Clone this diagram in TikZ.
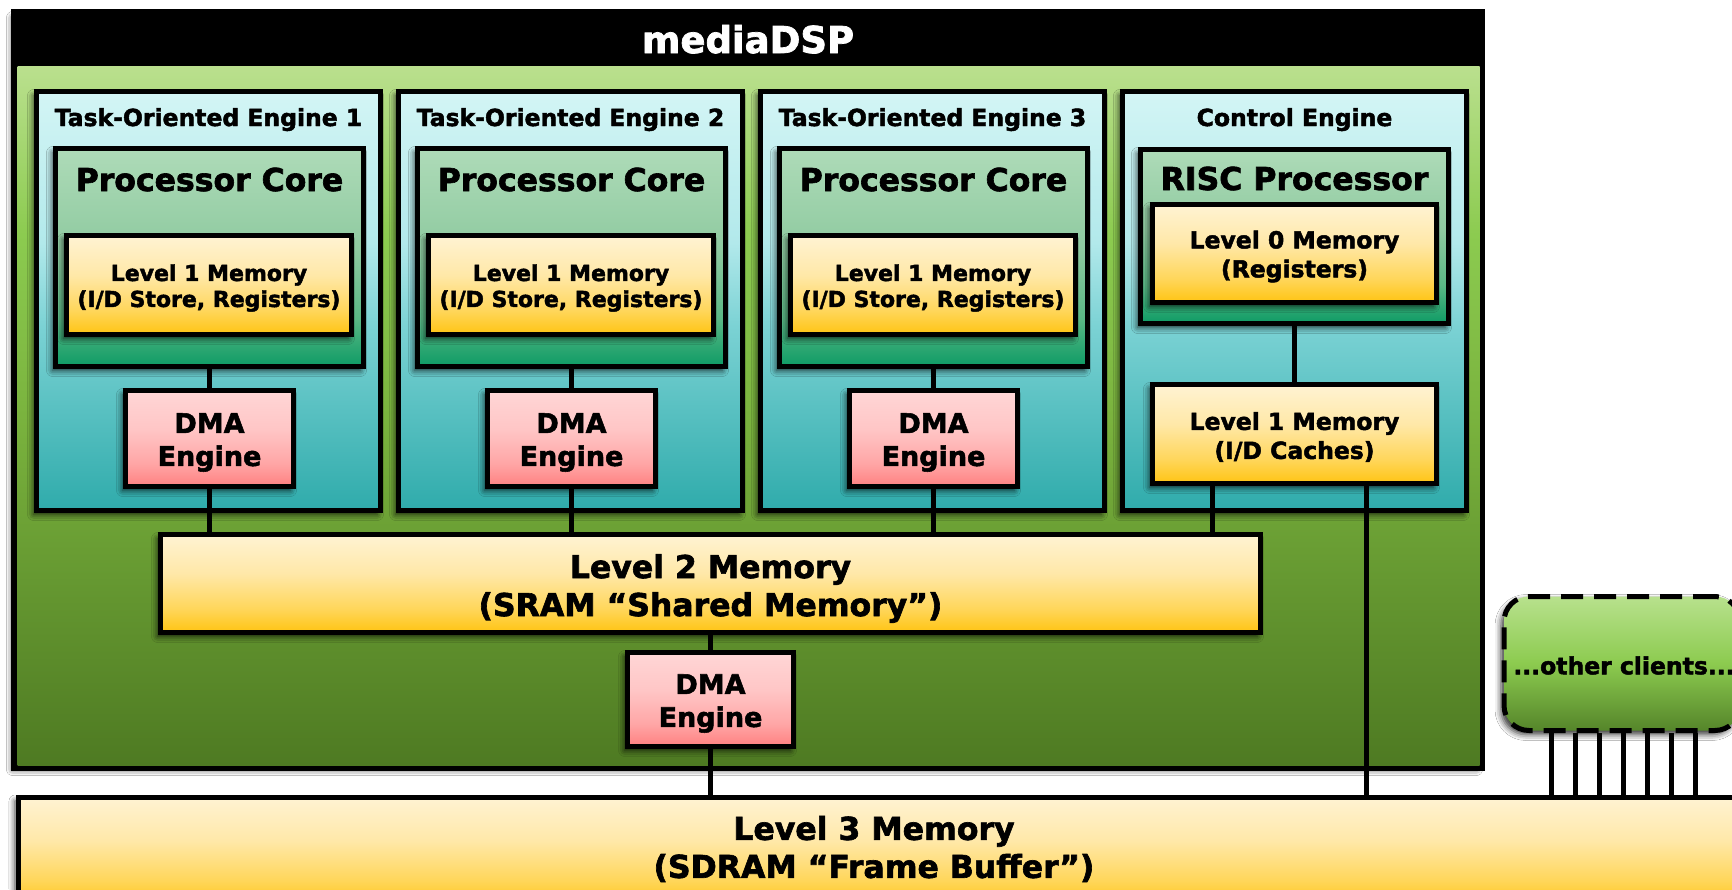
\documentclass[tikz,border=0pt]{standalone}
\usepackage{fontspec}
\setmainfont{DejaVu Sans}[BoldFeatures={FakeBold=2}]
\usetikzlibrary{shadows.blur}

% colour ramps
\definecolor{pgA}{HTML}{4E7A22}
\definecolor{pgB}{HTML}{7AB33E}
\definecolor{pgC}{HTML}{8CCB50}
\definecolor{pgD}{HTML}{BAE08E}
\definecolor{etA}{HTML}{2FABAB}
\definecolor{etB}{HTML}{7BD2D4}
\definecolor{etC}{HTML}{B2E9EB}
\definecolor{etD}{HTML}{D3F5F5}
\definecolor{cgA}{HTML}{0E9B65}
\definecolor{cgB}{HTML}{5BB885}
\definecolor{cgC}{HTML}{8FCAA0}
\definecolor{cgD}{HTML}{AEDBB8}
\definecolor{myA}{HTML}{FFC412}
\definecolor{myB}{HTML}{FFD65A}
\definecolor{myC}{HTML}{FFE8A8}
\definecolor{myD}{HTML}{FFF3D3}
\definecolor{dpA}{HTML}{FF8080}
\definecolor{dpB}{HTML}{FFA6A6}
\definecolor{dpC}{HTML}{FFC6C6}
\definecolor{dpD}{HTML}{FFD6D6}
\definecolor{ocA}{HTML}{55852A}
\definecolor{ocB}{HTML}{8CCB4F}
\definecolor{ocD}{HTML}{B8E18D}

% vertical ramps: 25bp = bottom of the filled shape, 75bp = top
\pgfdeclareverticalshading{panelgreen}{100bp}{color(0bp)=(pgA); color(25bp)=(pgA); color(50bp)=(pgB); color(63bp)=(pgC); color(75bp)=(pgD); color(100bp)=(pgD)}
\pgfdeclareverticalshading{engteal}{100bp}{color(0bp)=(etA); color(25bp)=(etA); color(47bp)=(etB); color(57bp)=(etC); color(75bp)=(etD); color(100bp)=(etD)}
\pgfdeclareverticalshading{coregreen}{100bp}{color(0bp)=(cgA); color(25bp)=(cgA); color(36bp)=(cgB); color(52bp)=(cgC); color(75bp)=(cgD); color(100bp)=(cgD)}
\pgfdeclareverticalshading{memyellow}{100bp}{color(0bp)=(myA); color(25bp)=(myA); color(37bp)=(myB); color(55bp)=(myC); color(75bp)=(myD); color(100bp)=(myD)}
\pgfdeclareverticalshading{dmapink}{100bp}{color(0bp)=(dpA); color(25bp)=(dpA); color(37bp)=(dpB); color(55bp)=(dpC); color(75bp)=(dpD); color(100bp)=(dpD)}
\pgfdeclareverticalshading{clientgreen}{100bp}{color(0bp)=(ocA); color(25bp)=(ocA); color(50bp)=(ocB); color(75bp)=(ocD); color(100bp)=(ocD)}

\newcommand\txtsize[2]{\fontsize{#1}{#2}\selectfont\bfseries}

\begin{document}
\begin{tikzpicture}[x=1pt,y=-1pt,
  shd/.style={blur shadow={shadow xshift=-3pt,shadow yshift=-4pt,shadow blur radius=6pt,shadow opacity=80}},
  box/.style={draw,line width=5pt,inner sep=0pt,shd},
  engine/.style={box,shading=engteal,minimum width=344,minimum height=419},
  core/.style={box,shading=coregreen,minimum width=308,minimum height=218},
  mem/.style={box,shading=memyellow},
  dma/.style={box,shading=dmapink,minimum width=168,minimum height=96},
  txt/.style={inner sep=0pt,align=center},
  dmatxt/.style={txt,font=\txtsize{27}{33}},
  hdr/.style={anchor=base,inner sep=0pt,font=\txtsize{23.5}{28}},
  big/.style={anchor=base,inner sep=0pt,font=\txtsize{31.5}{38}},
  wire/.style={line width=5pt}]

\useasboundingbox (0,0) rectangle (1732,889);
\clip (0,0) rectangle (1732,889);
\fill[white] (0,0) rectangle (1732,889);

% mediaDSP frame with its title bar and green body
\node[box,fill=black,minimum width=1464,minimum height=752] (dsp) at (747.5,389.5) {};
\path[shading=panelgreen] (17.5,66) rectangle (1479.5,765.5);
\draw[line width=5pt] (dsp.north west) rectangle (dsp.south east);
\node[anchor=base,inner sep=0pt,text=white,font=\txtsize{37}{42}] (title) at (748,53) {mediaDSP};

% task-oriented engines
\foreach \i/\cx in {1/208.5,2/570.5,3/932.5}{
  \node[engine] (te\i) at (\cx,301) {};
  \node[hdr] (tt\i) at (\cx,126) {Task-Oriented Engine \i};
  \node[core] (pc\i) at (\cx+1,257.5) {};
  \node[big] (pt\i) at (\cx+1,191) {Processor Core};
  \node[mem,minimum width=285,minimum height=99] (m\i) at (\cx+0.5,285) {};
  \node[txt,font=\txtsize{22}{26}] (m\i t) at ([yshift=-3pt]m\i.center) {Level 1 Memory\\(I/D Store, Registers)};
  \node[dma] (d\i) at (\cx+1,438.5) {};
  \node[dmatxt] (d\i t) at ([yshift=-4pt]d\i.center) {DMA\\Engine};
}

% control engine
\node[engine] (ce) at (1294.5,301) {};
\node[hdr] (ct) at (1294.5,126) {Control Engine};
\node[core,minimum height=174] (risc) at (1294.5,236.5) {};
\node[big] (rt) at (1294.5,190) {RISC Processor};
\node[mem,minimum width=284,minimum height=98] (l0) at (1294.5,253.5) {};
\node[txt,font=\txtsize{23.5}{29}] (l0t) at ([yshift=-3pt]l0.center) {Level 0 Memory\\(Registers)};
\node[mem,minimum width=284,minimum height=99] (cl1) at (1294.5,434) {};
\node[txt,font=\txtsize{23.5}{29}] (cl1t) at ([yshift=-3pt]cl1.center) {Level 1 Memory\\(I/D Caches)};

% shared memory and its DMA engine
\node[mem,minimum width=1100,minimum height=98] (l2) at (710.5,583.5) {};
\node[txt,font=\txtsize{31.5}{38}] (l2t) at ([yshift=-5pt]l2.center) {Level 2 Memory\\(SRAM “Shared Memory”)};
\node[dma,minimum width=166,minimum height=94] (d4) at (710.5,699.5) {};
\node[dmatxt] (d4t) at ([yshift=-4pt]d4.center) {DMA\\Engine};

% frame buffer
\node[mem,anchor=north west,minimum width=1730,minimum height=110] (l3) at (15.5,794.5) {};
\node[txt,font=\txtsize{31.5}{38}] (l3t) at (874,849) {Level 3 Memory\\(SDRAM “Frame Buffer”)};

% other clients
\node[box,rounded corners=25pt,dash pattern=on 22pt off 11pt,shading=clientgreen,minimum width=236,minimum height=134] (oc) at (1622,663.5) {};
\node[txt,font=\txtsize{23.5}{28}] (oct) at ([xshift=2pt,yshift=-2pt]oc.center) {...other clients...};

% connectors
\foreach \i in {1,2,3}{
  \draw[wire] (pc\i.south) -- (d\i.north);
  \draw[wire] (d\i.south) -- (d\i.south |- l2.north);
}
\draw[wire] (risc.south) -- (cl1.north);
\coordinate (cA) at (1212,0);
\coordinate (cB) at (1366,0);
\draw[wire] (cl1.south -| cA) -- (l2.north -| cA);
\draw[wire] (cl1.south -| cB) -- (l3.north -| cB);
\draw[wire] (l2.south) -- (d4.north);
\draw[wire] (d4.south) -- (d4.south |- l3.north);
\foreach \k in {0,...,6}{
  \coordinate (ck\k) at ({1551+24*\k},0);
  \draw[wire] (oc.south -| ck\k) -- (l3.north -| ck\k);
}
\end{tikzpicture}
\end{document}
